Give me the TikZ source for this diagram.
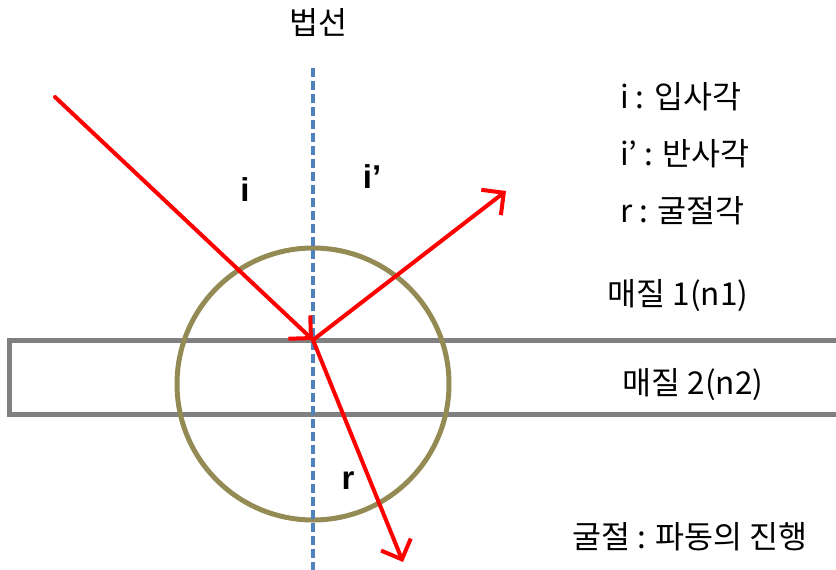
\documentclass[tikz,border=0pt]{standalone}
\usepackage{fontspec}
\setmainfont{Noto Sans CJK KR}
\newfontfamily\labelfont{Liberation Sans}
\usetikzlibrary{arrows.meta}

\definecolor{rayred}{HTML}{FF0000}
\definecolor{normalblue}{HTML}{4F81BD}
\definecolor{layergray}{HTML}{808080}
\definecolor{circleolive}{HTML}{948A54}

\begin{document}
\begin{tikzpicture}[x=1pt, y=-1pt,
      txt/.style={font=\fontsize{31.5}{34}\selectfont, inner sep=0pt},
      ang/.style={font=\labelfont\bfseries\fontsize{33}{36}\selectfont, inner sep=0pt},
      ray/.style={rayred, line width=4pt, line cap=round,
        -{Straight Barb[length=16pt, width=32pt, line width=4pt]}}]
    \useasboundingbox (0,0) rectangle (836,570);
    % medium 2 layer and circle
    \draw[layergray, line width=5pt] (850,340) -| (9,414) -- (850,414);
    \draw[circleolive, line width=5pt] (313,384) circle[radius=136];
    % normal line
    \coordinate (nt) at (313,68);
    \coordinate (nb) at (313,572);
    \draw[normalblue, line width=3.2pt, dash pattern=on 9pt off 4pt] (nt) -- (nb);
    % rays
    \coordinate (o) at (313,340);
    \coordinate (src) at (55,97);
    \coordinate (refl) at (506,191);
    \coordinate (refr) at (403,562);
    \draw[ray] (src) -- (o);
    \draw[ray] (o) -- (refl);
    \draw[ray] (o) -- (refr);
    % angle labels
    \node[ang] (li) at (245,190) {i};
    \node[ang] (lip) at (372,177) {i’};
    \node[ang] (lr) at (348,481) {r};
    % texts
    \node[txt] (normal) at (318,22) {법선};
    \node[txt, anchor=west] (ti) at (620,97) {i : 입사각};
    \node[txt, anchor=west] (tip) at (620,154) {i’ : 반사각};
    \node[txt, anchor=west] (tr) at (620,211) {r : 굴절각};
    \node[txt] (m1) at (678,296) {매질 1(n1)};
    \node[txt] (m2) at (693,385) {매질 2(n2)};
    \node[txt] (wave) at (690,537) {굴절 : 파동의 진행};
  \end{tikzpicture}
\end{document}
